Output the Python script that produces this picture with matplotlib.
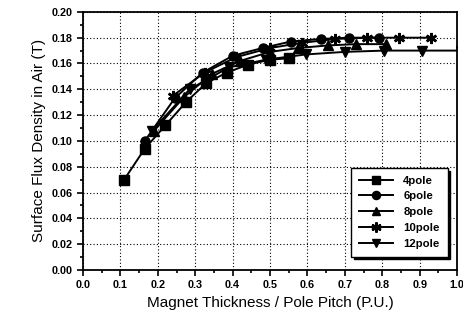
import matplotlib
matplotlib.use('Agg')
from matplotlib import pyplot as plt
from matplotlib.ticker import MultipleLocator

plt.rcParams['font.family'] = ['Liberation Sans', 'DejaVu Sans']

# data
x4 = [0.11, 0.165, 0.22, 0.275, 0.33, 0.385, 0.44, 0.50, 0.55]
y4 = [0.070, 0.094, 0.112, 0.130, 0.145, 0.153, 0.159, 0.163, 0.164]

x6 = [0.165, 0.245, 0.32, 0.40, 0.48, 0.555, 0.635, 0.71, 0.79]
y6 = [0.100, 0.133, 0.153, 0.166, 0.172, 0.177, 0.179, 0.180, 0.180]

x8 = [0.19, 0.27, 0.345, 0.42, 0.50, 0.575, 0.655, 0.73, 0.81]
y8 = [0.108, 0.134, 0.152, 0.162, 0.169, 0.172, 0.174, 0.175, 0.175]

x10 = [0.24, 0.325, 0.41, 0.50, 0.585, 0.675, 0.76, 0.845, 0.93]
y10 = [0.135, 0.153, 0.165, 0.172, 0.176, 0.179, 0.180, 0.180, 0.180]

x12 = [0.185, 0.285, 0.39, 0.49, 0.595, 0.70, 0.805, 0.905, 1.01]
y12 = [0.108, 0.140, 0.157, 0.163, 0.167, 0.169, 0.170, 0.170, 0.170]

series = [
    (x4, y4, 's', '4pole'),
    (x6, y6, 'o', '6pole'),
    (x8, y8, '^', '8pole'),
    (x10, y10, (6, 2, 0), '10pole'),
    (x12, y12, 'v', '12pole'),
]

fig = plt.figure(figsize=(4.64, 3.21), dpi=100)
ax = fig.add_axes([0.179, 0.159, 0.806, 0.804])

for xs, ys, m, lab in series:
    if lab == '10pole':
        ms, mew = 8, 1.8
    else:
        ms, mew = 6.5, 1.0
    ax.plot(xs, ys, color='black', lw=1.4, marker=m, ms=ms, mew=mew,
            mec='black', mfc='black', label=lab)

ax.set_xlim(0.0, 1.0)
ax.set_ylim(0.0, 0.20)
ax.xaxis.set_major_locator(MultipleLocator(0.1))
ax.xaxis.set_minor_locator(MultipleLocator(0.05))
ax.yaxis.set_major_locator(MultipleLocator(0.02))
ax.yaxis.set_minor_locator(MultipleLocator(0.01))
ax.xaxis.set_major_formatter(plt.FormatStrFormatter('%.1f'))
ax.yaxis.set_major_formatter(plt.FormatStrFormatter('%.2f'))
ax.tick_params(which='both', direction='out', width=1.2, labelsize=7.8)
ax.tick_params(which='major', length=4)
ax.tick_params(which='minor', length=2)
for lab in ax.get_xticklabels() + ax.get_yticklabels():
    lab.set_fontweight('bold')
for s in ax.spines.values():
    s.set_linewidth(1.3)

ax.grid(True, which='major', ls=(0, (1, 2)), color='black', lw=0.8)

ax.set_xlabel('Magnet Thickness / Pole Pitch (P.U.)', fontsize=11)
ax.set_ylabel('Surface Flux Density in Air (T)', fontsize=11)

leg = ax.legend(loc='lower right', bbox_to_anchor=(0.99, 0.03),
                fontsize=8.2, frameon=True, fancybox=False,
                shadow={'color': 'black', 'alpha': 1.0},
                edgecolor='black', handlelength=3.0, labelspacing=0.5,
                borderpad=0.7, handletextpad=0.9, markerscale=0.9)
leg.get_frame().set_linewidth(1.0)
for t in leg.get_texts():
    t.set_fontweight('bold')

fig.savefig('out.png', dpi=100)
